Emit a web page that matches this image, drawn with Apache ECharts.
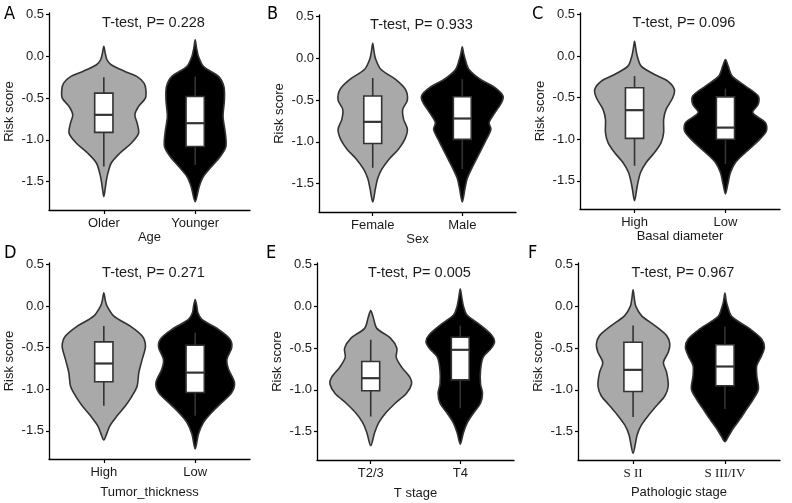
<!DOCTYPE html>
<html><head><meta charset="utf-8">
<script src="https://cdn.jsdelivr.net/npm/echarts@6/dist/echarts.min.js"></script>
<style>html,body{margin:0;padding:0;background:#fff}#c{width:792px;height:503px}</style>
</head><body><div id="c"></div><script>
// ---------- data ----------
const panelLetters = ['A','B','C','D','E','F'];
const pValues = ['0.228','0.933','0.096','0.271','0.005','0.967'];
const xTitles = ['Age','Sex','Basal diameter','Tumor_thickness','T stage','Pathologic stage'];
const groupNames = [['Older','Younger'],['Female','Male'],['High','Low'],['High','Low'],['T2/3','T4'],['S II','S III/IV']];
const yTickValues = [-1.5,-1.0,-0.5,0.0,0.5];

// violin density profiles: [risk score, half width (x-axis units)]
const violinA1 = [[0.12,0],[0.04,0.015],[-0.04,0.035],[-0.1,0.08],[-0.18,0.23],[-0.24,0.36],[-0.32,0.44],[-0.4,0.46],[-0.5,0.455],[-0.6,0.38],[-0.7,0.34],[-0.8,0.365],[-0.92,0.38],[-1.04,0.3],[-1.16,0.175],[-1.28,0.08],[-1.44,0.036],[-1.56,0.018],[-1.68,0]];
const violinA2 = [[0.2,0],[0.1,0.015],[0.0,0.036],[-0.12,0.09],[-0.24,0.255],[-0.36,0.314],[-0.52,0.32],[-0.72,0.305],[-0.92,0.33],[-1.08,0.336],[-1.2,0.274],[-1.32,0.18],[-1.44,0.09],[-1.56,0.044],[-1.74,0]];
const violinB1 = [[0.18,0],[0.08,0.015],[0.0,0.03],[-0.13,0.09],[-0.25,0.255],[-0.37,0.365],[-0.5,0.387],[-0.61,0.335],[-0.73,0.345],[-0.85,0.387],[-0.97,0.358],[-1.09,0.285],[-1.21,0.18],[-1.33,0.1],[-1.44,0.055],[-1.56,0.03],[-1.72,0]];
const violinB2 = [[0.14,0],[0.06,0.015],[0.0,0.03],[-0.13,0.073],[-0.25,0.2],[-0.35,0.365],[-0.45,0.455],[-0.53,0.438],[-0.65,0.365],[-0.77,0.3],[-0.85,0.32],[-1.0,0.255],[-1.16,0.18],[-1.33,0.1],[-1.44,0.055],[-1.56,0.03],[-1.72,0]];
const violinC1 = [[0.18,0],[0.08,0.015],[0.0,0.03],[-0.12,0.073],[-0.22,0.22],[-0.3,0.365],[-0.4,0.438],[-0.5,0.42],[-0.64,0.347],[-0.76,0.32],[-0.92,0.32],[-1.04,0.292],[-1.16,0.22],[-1.28,0.128],[-1.4,0.066],[-1.56,0.03],[-1.74,0]];
const violinC2 = [[-0.04,0],[-0.12,0.03],[-0.24,0.073],[-0.36,0.22],[-0.48,0.36],[-0.58,0.36],[-0.68,0.3],[-0.8,0.44],[-0.9,0.45],[-1.02,0.36],[-1.16,0.22],[-1.28,0.11],[-1.4,0.055],[-1.54,0.026],[-1.66,0]];
const violinD1 = [[0.16,0],[0.06,0.018],[0.0,0.036],[-0.12,0.11],[-0.24,0.29],[-0.36,0.42],[-0.48,0.456],[-0.64,0.42],[-0.8,0.383],[-0.96,0.365],[-1.08,0.31],[-1.2,0.237],[-1.32,0.146],[-1.44,0.066],[-1.54,0.03],[-1.61,0]];
const violinD2 = [[0.08,0],[0.0,0.018],[-0.08,0.03],[-0.16,0.073],[-0.28,0.255],[-0.4,0.383],[-0.5,0.4],[-0.64,0.347],[-0.76,0.365],[-0.92,0.43],[-1.04,0.4],[-1.16,0.292],[-1.28,0.18],[-1.4,0.091],[-1.54,0.036],[-1.72,0]];
const violinE1 = [[-0.05,0],[-0.14,0.03],[-0.26,0.066],[-0.38,0.22],[-0.5,0.292],[-0.61,0.285],[-0.73,0.347],[-0.85,0.438],[-0.93,0.456],[-1.04,0.4],[-1.16,0.274],[-1.28,0.164],[-1.39,0.091],[-1.51,0.044],[-1.67,0]];
const violinE2 = [[0.21,0],[0.1,0.018],[0.0,0.036],[-0.1,0.073],[-0.22,0.22],[-0.34,0.347],[-0.42,0.383],[-0.5,0.347],[-0.61,0.255],[-0.77,0.226],[-0.93,0.226],[-1.04,0.248],[-1.16,0.226],[-1.28,0.146],[-1.39,0.08],[-1.51,0.036],[-1.65,0]];
const violinF1 = [[0.2,0],[0.08,0.015],[0.0,0.03],[-0.11,0.091],[-0.23,0.237],[-0.35,0.365],[-0.45,0.4],[-0.55,0.383],[-0.67,0.33],[-0.79,0.365],[-0.95,0.383],[-1.07,0.347],[-1.19,0.255],[-1.31,0.164],[-1.42,0.091],[-1.54,0.044],[-1.76,0]];
const violinF2 = [[0.16,0],[0.06,0.015],[0.0,0.03],[-0.12,0.073],[-0.27,0.274],[-0.39,0.4],[-0.49,0.43],[-0.59,0.4],[-0.71,0.347],[-0.83,0.347],[-0.99,0.365],[-1.11,0.31],[-1.23,0.237],[-1.35,0.164],[-1.46,0.091],[-1.56,0.036],[-1.62,0]];

// boxplot stats: [lower whisker, Q1, median, Q3, upper whisker]
const boxA = [[-1.32,-0.91,-0.70,-0.44,-0.25],[-1.30,-1.08,-0.80,-0.48,-0.24]];
const boxB = [[-1.31,-1.02,-0.76,-0.45,-0.235],[-1.325,-0.97,-0.72,-0.46,-0.25]];
const boxC = [[-1.32,-0.99,-0.65,-0.38,-0.24],[-1.30,-1.00,-0.86,-0.49,-0.39]];
const boxD = [[-1.20,-0.91,-0.69,-0.43,-0.24],[-1.32,-1.04,-0.80,-0.47,-0.32]];
const boxE = [[-1.32,-1.01,-0.86,-0.66,-0.40],[-1.22,-0.88,-0.52,-0.37,-0.23]];
const boxF = [[-1.325,-1.02,-0.76,-0.43,-0.23],[-1.23,-0.95,-0.72,-0.46,-0.24]];

// ---------- layout / style ----------
const violins = [[violinA1,violinA2],[violinB1,violinB2],[violinC1,violinC2],[violinD1,violinD2],[violinE1,violinE2],[violinF1,violinF2]];
const boxes = [boxA,boxB,boxC,boxD,boxE,boxF];
const grids = [
  {left:49, top:13, width:201, height:197},
  {left:319, top:15, width:197, height:197},
  {left:580, top:13, width:200, height:196},
  {left:49, top:263, width:201, height:196},
  {left:317, top:263, width:197, height:197},
  {left:578, top:263, width:202, height:197}
];
const xNameGaps = [21,20,21,27,27,26];
const fills = ['#a9a9a9','#000000'];
const FONT = '"Liberation Sans", Arial, sans-serif';
const LINE = '#333333';

const chart = echarts.init(document.getElementById('c'), null, {renderer:'canvas'});
const xAxes = [], yAxes = [], series = [], titles = [];

grids.forEach((g, i) => {
  xAxes.push({
    gridIndex:i, type:'value', min:0.4, max:2.6,
    axisLine:{show:true, onZero:false, lineStyle:{color:'#000', width:1.3}},
    axisTick:{show:true, customValues:[1,2], length:4, lineStyle:{color:'#000', width:1.2}},
    axisLabel:{show:true, customValues:[1,2], formatter:(v)=>groupNames[i][Math.round(v)-1],
      fontSize:13, color:'#1a1a1a', margin:7,
      fontFamily: i===5 ? '"Liberation Serif", "DejaVu Serif", serif' : FONT},
    splitLine:{show:false},
    name:xTitles[i], nameLocation:'middle', nameGap:xNameGaps[i],
    nameTextStyle:{fontSize:13, color:'#1a1a1a', fontFamily:FONT}
  });
  yAxes.push({
    gridIndex:i, type:'value', min:-1.84, max:0.52,
    axisLine:{show:true, onZero:false, lineStyle:{color:'#000', width:1.3}},
    axisTick:{show:true, customValues:yTickValues, length:3, lineStyle:{color:'#000', width:1.2}},
    axisLabel:{show:true, customValues:yTickValues, formatter:(v)=>v.toFixed(1),
      fontSize:13, color:'#1a1a1a', margin:5, fontFamily:FONT},
    splitLine:{show:false},
    name:'Risk score', nameLocation:'middle', nameGap:33,
    nameTextStyle:{fontSize:13, color:'#1a1a1a', fontFamily:FONT}
  });
  titles.push({
    text:'T-test, P= ' + pValues[i],
    left: g.left + g.width/2 - 1, top: g.top - 3, textAlign:'center',
    textStyle:{fontSize:14.5, fontWeight:'normal', color:'#1a1a1a', fontFamily:FONT}
  });
  titles.push({
    text:panelLetters[i],
    left: [-1,262,527,-1,261,523][i], top: i<3 ? 0 : 239,
    textStyle:{fontSize:18, fontWeight:'normal', color:'#000', fontFamily:'"Liberation Sans Narrow", "DejaVu Sans Condensed", "Liberation Sans", sans-serif'}
  });

  // violins
  [0,1].forEach(gi => {
    const prof = violins[i][gi];
    series.push({
      type:'custom', xAxisIndex:i, yAxisIndex:i, silent:true,
      data:[[gi+1]],
      renderItem:(params, api) => {
        const cx = api.value(0);
        const right = prof.map(p => api.coord([cx + p[1], p[0]]));
        const left = prof.slice().reverse().map(p => api.coord([cx - p[1], p[0]]));
        return {
          type:'polygon',
          shape:{points: right.concat(left.slice(1, left.length-1)), smooth:0.3},
          style:{fill:fills[gi], stroke:LINE, lineWidth:1.6}
        };
      }
    });
  });
  // boxes
  series.push({
    type:'custom', xAxisIndex:i, yAxisIndex:i, silent:true,
    data: boxes[i].map((b, gi) => [gi+1].concat(b)),
    renderItem:(params, api) => {
      const x = api.value(0), hw = 0.1;
      const lw = api.coord([x, api.value(1)]);
      const uw = api.coord([x, api.value(5)]);
      const q1 = api.coord([x-hw, api.value(2)]);
      const q3 = api.coord([x+hw, api.value(4)]);
      const mL = api.coord([x-hw, api.value(3)]);
      const mR = api.coord([x+hw, api.value(3)]);
      return {type:'group', children:[
        {type:'line', shape:{x1:lw[0], y1:lw[1], x2:uw[0], y2:uw[1]}, style:{stroke:LINE, lineWidth:1.6}},
        {type:'rect', shape:{x:q1[0], y:q3[1], width:q3[0]-q1[0], height:q1[1]-q3[1]}, style:{fill:'#fff', stroke:LINE, lineWidth:1.6}},
        {type:'line', shape:{x1:mL[0], y1:mL[1], x2:mR[0], y2:mR[1]}, style:{stroke:LINE, lineWidth:2.2}}
      ]};
    }
  });
});

chart.setOption({
  animation:false,
  backgroundColor:'#fff',
  title:titles,
  grid:grids.map(g => Object.assign({containLabel:false}, g)),
  xAxis:xAxes, yAxis:yAxes, series:series
});
</script></body></html>
